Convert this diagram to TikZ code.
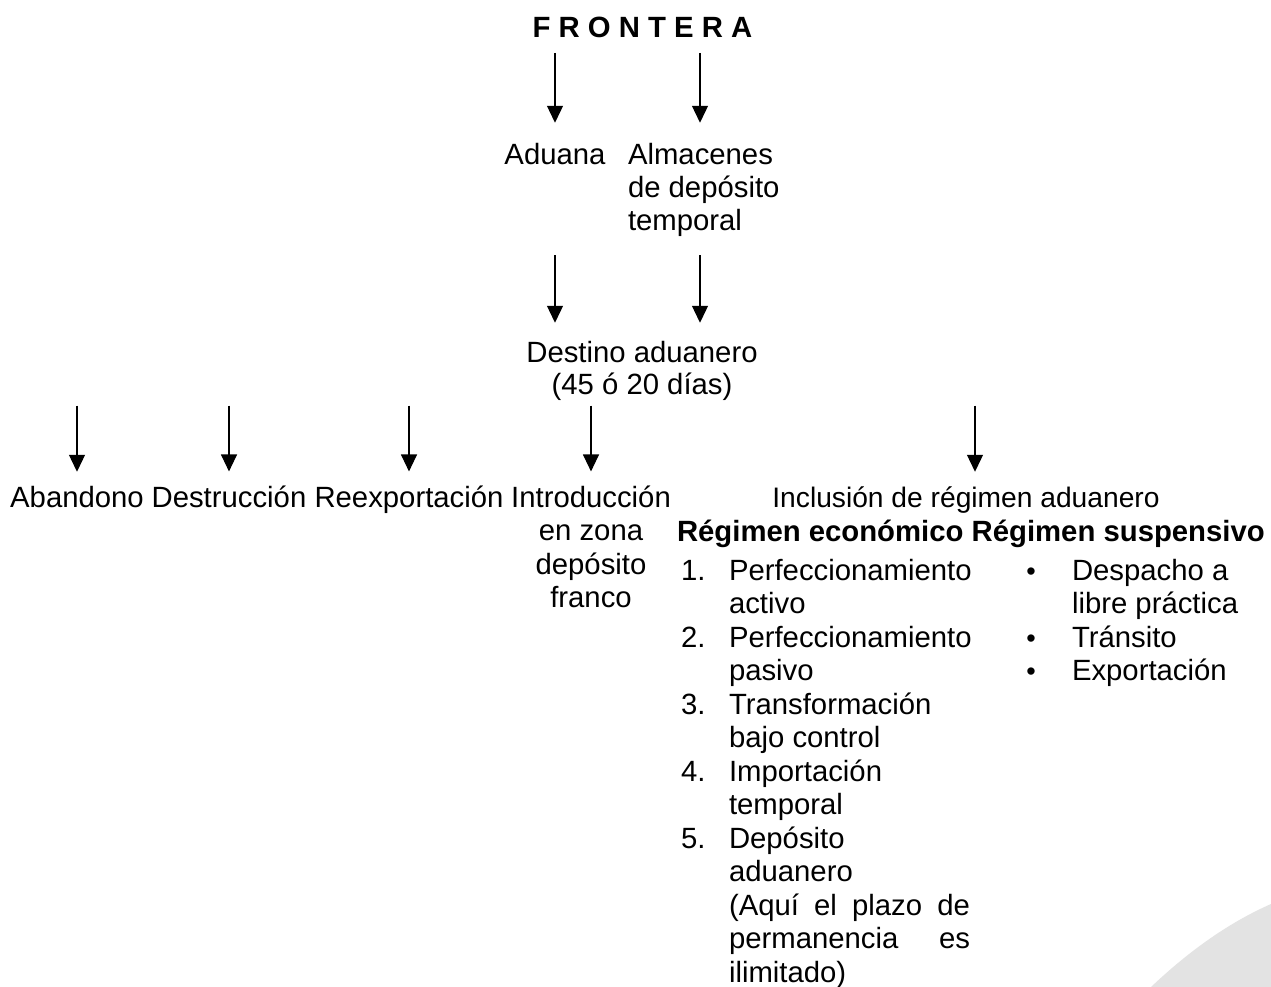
\documentclass[tikz,border=0pt]{standalone}
\usepackage{fontspec}
\setmainfont{Liberation Sans}
\usetikzlibrary{arrows.meta}
\begin{document}
\begin{tikzpicture}[x=1pt,y=-1pt,
  txt/.style={inner sep=0pt,outer sep=0pt,anchor=base,font=\fontsize{29.3}{33}\selectfont},
  txtl/.style={txt,anchor=base west},
  bul/.style={txt,font=\fontsize{27}{33}\selectfont},
  arr/.style={draw=black,line width=1.2pt,-{Triangle[width=16pt,length=17pt]}}]
\useasboundingbox (0,0) rectangle (1271,987);
\fill[white] (0,0) rectangle (1271,987);
\fill[black!11] (1151,987) .. controls (1190,950) and (1230,922) .. (1271,904) -- (1271,987) -- cycle;

% top
\node[txt,font=\fontsize{29.3}{33}\selectfont\bfseries] (frontera) at (642.5,38) {F R O N T E R A};
\node[txt] (aduana) at (555,165) {Aduana};
\node[txtl] (almacenes) at (628,165) {Almacenes};
\node[txtl] (alm2) at (628,197.5) {de depósito};
\node[txtl] (alm3) at (628,230) {temporal};
\coordinate (almx) at (700,0);

\draw[arr] (aduana.north |- frontera.base) ++(0,15) -- ([yshift=21pt]aduana.north);
\draw[arr] (almx |- frontera.base) ++(0,15) -- ([yshift=21pt]almx |- almacenes.north);

% destino
\node[txt] (destino) at (642,362) {Destino aduanero};
\node[txt] (dias) at (642,394.5) {(45 ó 20 días)};
\draw[arr] (aduana.north |- alm3.base) ++(0,25) -- ([yshift=18pt]aduana.north |- destino.north);
\draw[arr] (almx |- alm3.base) ++(0,25) -- ([yshift=18pt]almx |- destino.north);

% row 3
\node[txt] (abandono) at (77,507) {Abandono};
\node[txt] (destruccion) at (229,507) {Destrucción};
\node[txt] (reexport) at (409,507) {Reexportación};
\node[txt] (intro) at (591,507) {Introducción};
\node[txt] (intro2) at (591,540.5) {en zona};
\node[txt] (intro3) at (591,574) {depósito};
\node[txt] (intro4) at (591,607.5) {franco};
\node[txt,font=\fontsize{28.2}{33}\selectfont] (inclusion) at (966,507) {Inclusión de régimen aduanero};
\coordinate (inclx) at (975,0);

\foreach \n in {abandono,destruccion,reexport,intro}
  \draw[arr] (\n.north |- dias.base) ++(0,11) -- ([yshift=14pt]\n.north);
\draw[arr] (inclx |- dias.base) ++(0,11) -- ([yshift=14pt]inclx |- abandono.north);

% regimes
\node[txtl,font=\fontsize{29.3}{33}\selectfont\bfseries] (regimen) at (677,541) {Régimen económico Régimen suspensivo};

\node[txtl] (n1) at (681,580) {1.};
\node[txtl] (e1) at (729,580) {Perfeccionamiento};
\node[txtl] (e1b) at (729,613.5) {activo};
\node[txtl] (n2) at (681,647) {2.};
\node[txtl] (e2) at (729,647) {Perfeccionamiento};
\node[txtl] (e2b) at (729,680.5) {pasivo};
\node[txtl] (n3) at (681,714) {3.};
\node[txtl] (e3) at (729,714) {Transformación};
\node[txtl] (e3b) at (729,747.5) {bajo control};
\node[txtl] (n4) at (681,781) {4.};
\node[txtl] (e4) at (729,781) {Importación};
\node[txtl] (e4b) at (729,814.5) {temporal};
\node[txtl] (n5) at (681,848) {5.};
\node[txtl] (e5) at (729,848) {Depósito};
\node[txtl] (e5b) at (729,881.5) {aduanero};
\node[txtl] (e5c) at (729,915) {\makebox[241pt][s]{(Aquí el plazo de}};
\node[txtl] (e5d) at (729,948.5) {\makebox[241pt][s]{permanencia es}};
\node[txtl] (e5e) at (729,982) {ilimitado)};

\node[bul] (b1) at (1031,580) {•};
\node[txtl] (s1) at (1072,580) {Despacho a};
\node[txtl] (s1b) at (1072,613.5) {libre práctica};
\node[bul] (b2) at (1031,647) {•};
\node[txtl] (s2) at (1072,647) {Tránsito};
\node[bul] (b3) at (1031,680.5) {•};
\node[txtl] (s3) at (1072,680.5) {Exportación};
\end{tikzpicture}
\end{document}
